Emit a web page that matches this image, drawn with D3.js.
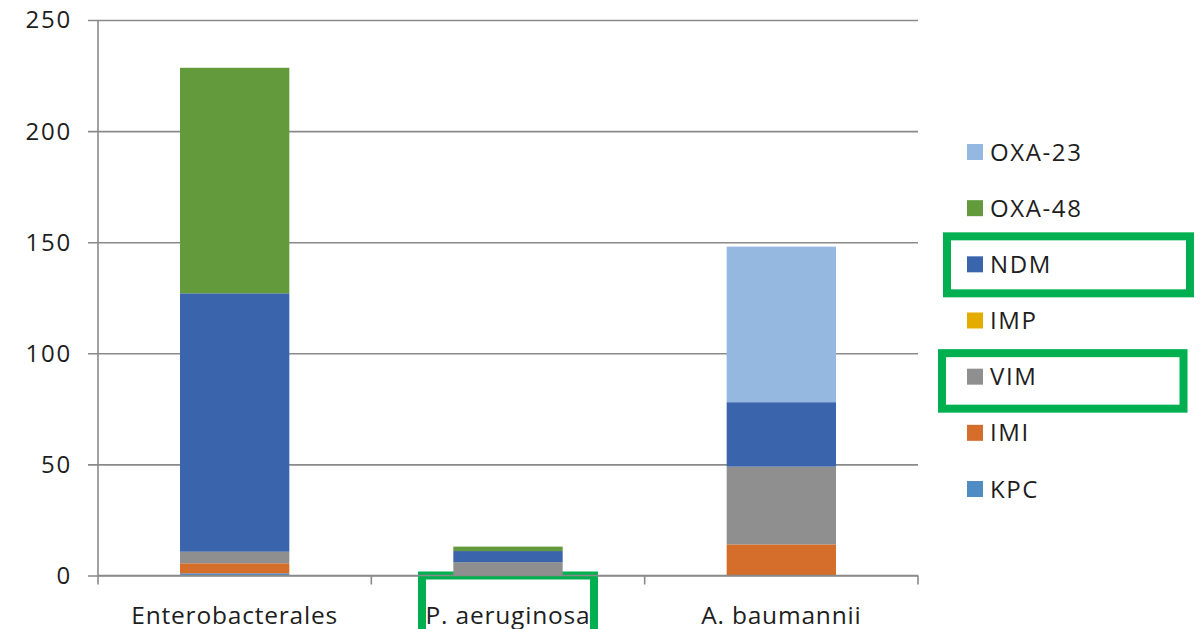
<!DOCTYPE html>
<html>
<head>
<meta charset="utf-8">
<script src="https://cdn.jsdelivr.net/npm/d3@7"></script>
<style>
  html, body { margin: 0; padding: 0; background: #fff; }
  svg { display: block; font-family: "Open Sans", "Liberation Sans", sans-serif; }
</style>
</head>
<body>
<svg id="chart" width="1202" height="629"></svg>
<script>
// Carbapenemase counts per organism group
const categories = ["Enterobacterales", "P. aeruginosa", "A. baumannii"];
const seriesNames = ["KPC", "IMI", "VIM", "IMP", "NDM", "OXA-48", "OXA-23"];
const KPC    = [1, 0, 0];
const IMI    = [4.5, 0, 14];
const VIM    = [5.2, 6, 35];
const IMP    = [0, 0, 0];
const NDM    = [116.3, 5, 29];
const OXA48  = [101.5, 2, 0];
const OXA23  = [0, 0, 70];
const yTicks = [0, 50, 100, 150, 200, 250];

const seriesValues = [KPC, IMI, VIM, IMP, NDM, OXA48, OXA23];
const colors = ["#4f8cc4", "#d46e2a", "#8f8f8f", "#e4ac00", "#3a64ab", "#629a3c", "#95b8e0"];
const highlighted = ["NDM", "VIM"];
const highlightedCategory = "P. aeruginosa";
const annotationGreen = "#00b050";

const rows = categories.map((c, i) => {
  const r = { category: c };
  seriesNames.forEach((s, j) => { r[s] = seriesValues[j][i]; });
  return r;
});

const svg = d3.select("#chart");
const plot = { left: 98, right: 918, top: 20, bottom: 575.5 };

const x = d3.scaleBand().domain(categories).range([plot.left, plot.right]).paddingInner(0).paddingOuter(0);
const y = d3.scaleLinear().domain([0, 250]).range([plot.bottom, plot.top]);
const gridColor = "#8a8a8a";
const textColor = "#1e1e1e";
const stub = 10;

// horizontal gridlines with left tick stubs
const yAxis = d3.axisLeft(y).tickValues(yTicks).tickSize(-(plot.right - plot.left + stub)).tickFormat("");
const gy = svg.append("g").attr("transform", `translate(${plot.left - stub},0)`).call(yAxis);
gy.select(".domain").remove();
gy.selectAll(".tick line").attr("stroke", gridColor).attr("stroke-width", 1.6);

// y tick labels
svg.append("g").selectAll("text").data(yTicks).join("text")
  .attr("x", 72).attr("y", d => y(d)).attr("dy", "0.35em")
  .attr("text-anchor", "end").attr("font-size", 24).attr("letter-spacing", 1.8)
  .attr("fill", textColor)
  .text(d => d);

// y axis line
svg.append("line").attr("x1", plot.left).attr("x2", plot.left)
  .attr("y1", plot.top).attr("y2", plot.bottom + 9)
  .attr("stroke", gridColor).attr("stroke-width", 1.6);

// annotation box around a category label (behind the bars)
svg.append("rect")
  .attr("x", x(highlightedCategory) - 86 + x.bandwidth() / 2)
  .attr("y", plot.bottom)
  .attr("width", 172)
  .attr("height", 80)
  .attr("fill", "none").attr("stroke", annotationGreen).attr("stroke-width", 8);

// stacked bars
const stack = d3.stack().keys(seriesNames)(rows);
const barW = x.bandwidth() * 0.4;
svg.append("g").selectAll("g").data(stack).join("g")
  .attr("fill", (d, i) => colors[i])
  .selectAll("rect").data(d => d.filter(p => p[1] - p[0] > 0)).join("rect")
  .attr("x", d => x(d.data.category) + (x.bandwidth() - barW) / 2)
  .attr("y", d => y(d[1]))
  .attr("width", barW)
  .attr("height", d => y(d[0]) - y(d[1]));

// x axis line and category ticks
svg.append("line").attr("x1", plot.left).attr("x2", plot.right)
  .attr("y1", plot.bottom).attr("y2", plot.bottom)
  .attr("stroke", gridColor).attr("stroke-width", 1.6);
svg.append("g").selectAll("line").data(categories).join("line")
  .attr("x1", d => x(d) + x.bandwidth()).attr("x2", d => x(d) + x.bandwidth())
  .attr("y1", plot.bottom).attr("y2", plot.bottom + 9)
  .attr("stroke", gridColor).attr("stroke-width", 1.6);

// category labels
svg.append("g").selectAll("text").data(categories).join("text")
  .attr("x", d => x(d) + x.bandwidth() / 2).attr("y", 624)
  .attr("text-anchor", "middle").attr("font-size", 24.5).attr("letter-spacing", 0.8)
  .attr("fill", textColor)
  .text(d => d);

// legend (top entry is the last series)
const legendItems = seriesNames.slice().reverse();
const legendY = d3.scalePoint().domain(legendItems).range([152, 489]);
const lg = svg.append("g");
legendItems.forEach(name => {
  const i = seriesNames.indexOf(name);
  const cy = legendY(name);
  lg.append("rect").attr("x", 967).attr("y", cy - 8).attr("width", 16).attr("height", 16).attr("fill", colors[i]);
  lg.append("text").attr("x", 990).attr("y", cy).attr("dy", "0.36em")
    .attr("font-size", 24).attr("letter-spacing", 1.6)
    .attr("fill", textColor).text(name);
});

// annotation boxes around highlighted legend entries
const boxGeom = { NDM: [947, 1190, -28, 29], VIM: [942, 1183.5, -23.5, 32] };
highlighted.forEach(name => {
  const cy = legendY(name);
  const [x0, x1, dy0, dy1] = boxGeom[name];
  lg.append("rect").attr("x", x0).attr("y", cy + dy0)
    .attr("width", x1 - x0).attr("height", dy1 - dy0)
    .attr("fill", "none").attr("stroke", annotationGreen).attr("stroke-width", 8);
});
</script>
</body>
</html>
